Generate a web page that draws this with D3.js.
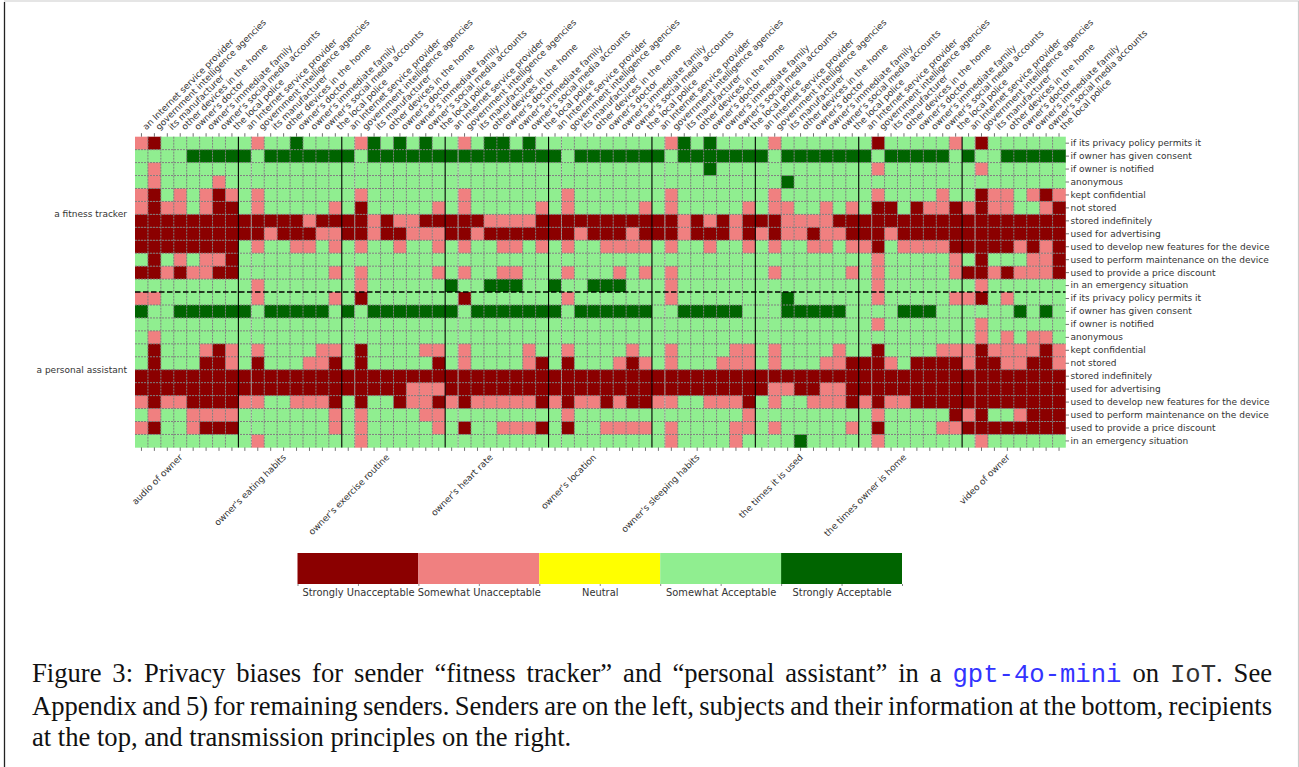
<!DOCTYPE html>
<html>
<head>
<meta charset="utf-8">
<script src="https://d3js.org/d3.v7.min.js"></script>
<style>
    html, body { margin: 0; padding: 0; background: white; overflow: hidden; }
    svg { display: block; position: absolute; left: 0; top: 0; }
    text { font-family: "DejaVu Sans", sans-serif; fill: #333; }
    .caption {
        position: absolute; left: 32px; white-space: nowrap;
        font-family: "Liberation Serif", serif; font-size: 26.6px; line-height: 30px; color: #111;
    }
    .tt { font-family: "Liberation Mono", monospace; font-size: 25.6px; font-weight: 400; color: #333; }
</style>
</head>
<body>
<script>
    const width = 1299, height = 767;

    const recipients = ["an Internet service provider", "government intelligence agencies", "its manufacturer",
        "other devices in the home", "owner's doctor", "owner's immediate family",
        "owner's social media accounts", "the local police"];
    const subjects = ["audio of owner", "owner's eating habits", "owner's exercise routine", "owner's heart rate",
        "owner's location", "owner's sleeping habits", "the times it is used", "the times owner is home", "video of owner"];
    const senders = ["a fitness tracker", "a personal assistant"];
    const principles = ["if its privacy policy permits it", "if owner has given consent", "if owner is notified",
        "anonymous", "kept confidential", "not stored", "stored indefinitely", "used for advertising",
        "used to develop new features for the device", "used to perform maintenance on the device",
        "used to provide a price discount", "in an emergency situation"];
    const ratings = ["Strongly Unacceptable", "Somewhat Unacceptable", "Neutral", "Somewhat Acceptable", "Strongly Acceptable"];
    const ratingColors = ["#8b0000", "#f08080", "#ffff00", "#90ee90", "#006400"];

    // one string per principle, 8 digits per subject, digit = index into ratings
    const fitnessTracker = [
        "10333333 31334333 31434343 31344343 33333333 31434333 31333333 30333331 30333333",
        "33334444 43444444 43444444 44444444 43444444 43444444 43444444 43444443 43344444",
        "31333333 33333333 33333333 33333333 33333333 33334333 33333333 31333333 31333333",
        "31333313 33333333 33333333 33333333 33333333 33333333 33433333 33333333 33333333",
        "10313101 31333333 31333333 31333333 31333333 31333333 31333333 31333313 30113101",
        "10113100 31333331 30333331 31333331 31333331 31333331 31133131 30030110 10113310",
        "00000000 00000100 00101100 00011110 00000000 00101010 00111100 00000000 00000000",
        "00000000 00100011 00100111 00100000 00100010 00100010 10110110 00100000 00000000",
        "00000000 31331131 31331331 31331131 31331111 31331331 31331131 10311110 00001010",
        "30313110 33333333 33333333 33333333 33333333 33333333 33333333 31333331 30333110",
        "00101100 33333331 31333331 31331133 31333131 31333333 31333331 31333331 00101110",
        "33333333 31333333 31333333 43344433 43344433 31333333 33333333 31333333 31333333"
    ];
    const personalAssistant = [
        "11333333 31333331 30333333 30333333 31333333 31333333 33433333 31333331 10313333",
        "43344444 43444443 43444444 43444444 43444444 33444443 33444443 33344433 33334343",
        "33333333 33333333 33333333 33333333 33333333 33333333 33333333 31333333 31333333",
        "31333333 33333333 33333333 33333333 33333333 33333333 33333333 33333333 31313113",
        "30333101 31333311 30333311 31333313 31333313 31333311 31333313 30333311 10111101",
        "30333001 30333110 30333330 31333310 30333101 31333111 31333110 00130000 10011001",
        "00000000 00000000 00000000 00000000 00000000 00000000 00000000 00000000 00000000",
        "00000000 00000000 00000111 00000000 00000000 00000000 01100110 00000000 00000000",
        "10110000 11331110 30330110 10111110 10110100 11331110 31331110 10110000 00000000",
        "31331111 33333331 31333311 33333333 31333333 33333331 33333333 31333330 10331000",
        "10331000 33333331 31333331 30331110 30331111 31333311 31333331 30333311 00000000",
        "33333333 31333333 31333333 33333333 33333333 31333313 33343333 31333333 31333333"
    ];

    const columns = d3.range(subjects.length * recipients.length);
    const rows = d3.range(senders.length * principles.length);
    const values = fitnessTracker.concat(personalAssistant).map(r => r.replace(/ /g, "").split("").map(Number));

    const svg = d3.select("body").append("svg").attr("width", width).attr("height", height);

    const x = d3.scaleBand().domain(columns).range([135, 1065.5]);
    const y = d3.scaleBand().domain(rows).range([136.7, 447.4]);
    const color = d3.scaleOrdinal().domain(d3.range(ratings.length)).range(ratingColors);
    const nr = recipients.length, np = principles.length;

    // page frame around the figure
    svg.append("path").attr("d", "M4.5,2 V767")
        .attr("fill", "none").attr("stroke", "#222").attr("stroke-width", 1.3);
    svg.append("path").attr("d", "M4,1 H1298.5 V767")
        .attr("fill", "none").attr("stroke", "#ccc").attr("stroke-width", 1.2);

    // cells
    svg.append("g").selectAll("g").data(values).join("g")
        .attr("transform", (d, i) => `translate(0,${y(i)})`)
        .selectAll("rect").data(d => d).join("rect")
        .attr("x", (d, i) => x(i))
        .attr("width", x.bandwidth() + 0.3)
        .attr("height", y.bandwidth() + 0.3)
        .attr("fill", d => color(d));

    // the light seam after the first column of each subject
    d3.range(subjects.length - 1).forEach(s => {
        svg.append("line").attr("x1", x(s * nr + 9)).attr("x2", x(s * nr + 9))
            .attr("y1", y.range()[0]).attr("y2", y.range()[1])
            .attr("stroke", "white").attr("stroke-opacity", 0.5);
    });

    // dotted grid on cell borders
    const grid = svg.append("g").attr("stroke", "#7f7f7f").attr("stroke-width", 1).attr("stroke-dasharray", "2,1");
    columns.slice(1).filter(c => c % nr != 0).forEach(c => {
        grid.append("line").attr("x1", x(c)).attr("x2", x(c)).attr("y1", y.range()[0]).attr("y2", y.range()[1]);
    });
    rows.slice(1).filter(r => r != np).forEach(r => {
        grid.append("line").attr("x1", x.range()[0]).attr("x2", x.range()[1]).attr("y1", y(r)).attr("y2", y(r));
    });

    // subject and sender separators
    d3.range(1, subjects.length).forEach(s => {
        svg.append("line").attr("x1", x(s * nr)).attr("x2", x(s * nr))
            .attr("y1", y.range()[0]).attr("y2", y.range()[1])
            .attr("stroke", "black").attr("stroke-width", 1.1);
    });
    svg.append("line").attr("x1", x.range()[0]).attr("x2", x.range()[1])
        .attr("y1", y(np)).attr("y2", y(np))
        .attr("stroke", "black").attr("stroke-width", 1.5).attr("stroke-dasharray", "5.5,2.5");

    // top axis: recipients, repeated for each subject
    const topAxis = svg.append("g").attr("transform", `translate(0,${y.range()[0]})`)
        .call(d3.axisTop(x).tickSize(3.5).tickSizeOuter(0).tickFormat(c => recipients[c % nr]));
    topAxis.select(".domain").remove();
    topAxis.selectAll("line").attr("stroke", "#333").attr("stroke-width", 0.7);
    topAxis.selectAll("text")
        .attr("font-size", 8.95).attr("text-anchor", "start")
        .attr("transform", "translate(5,1.5) rotate(-45)").attr("dx", "0.6em").attr("dy", "0.1em");

    // right axis: transmission principles
    const rightAxis = svg.append("g").attr("transform", `translate(${x.range()[1]},0)`)
        .call(d3.axisRight(y).tickSize(3.5).tickPadding(1.5).tickSizeOuter(0).tickFormat(r => principles[r % np]));
    rightAxis.select(".domain").remove();
    rightAxis.selectAll("line").attr("stroke", "#333").attr("stroke-width", 0.7);
    rightAxis.selectAll("text").attr("font-size", 9);

    // bottom axis: subjects at the middle of each group
    const subjectX = d3.scaleBand().domain(subjects).range(x.range());
    const bottomAxis = svg.append("g").attr("transform", `translate(0,${y.range()[1]})`)
        .call(d3.axisBottom(x).tickSize(3.5).tickSizeOuter(0).tickFormat(""));
    bottomAxis.select(".domain").remove();
    bottomAxis.selectAll("line").attr("stroke", "#333").attr("stroke-width", 0.7);
    svg.append("g").selectAll("text").data(subjects).join("text")
        .attr("transform", d => `translate(${subjectX(d) + subjectX.bandwidth() / 2 - 8},${y.range()[1] + 6}) rotate(-45)`)
        .attr("text-anchor", "end").attr("dy", "0.7em")
        .attr("font-size", 9)
        .text(d => d);

    // left labels: senders
    svg.append("g").selectAll("text").data(senders).join("text")
        .attr("x", 127)
        .attr("y", (d, i) => y(i * np + np / 2))
        .attr("dy", "0.32em").attr("text-anchor", "end")
        .attr("font-size", 9)
        .text(d => d);

    // legend
    const legendX = d3.scaleLinear().domain([0, ratings.length]).range([297.5, 902]);
    svg.append("g").selectAll("rect").data(ratings).join("rect")
        .attr("x", (d, i) => legendX(i))
        .attr("y", 553)
        .attr("width", (d, i) => legendX(i + 1) - legendX(i))
        .attr("height", 31)
        .attr("fill", (d, i) => ratingColors[i]);
    const legendAxis = svg.append("g").attr("transform", "translate(0,584)")
        .call(d3.axisBottom(legendX).tickValues(d3.range(0, ratings.length + 0.5, 0.5)).tickSize(2)
            .tickFormat(v => Number.isInteger(v) ? "" : ratings[Math.floor(v)]));
    legendAxis.select(".domain").remove();
    legendAxis.selectAll("line").attr("stroke", "#555").attr("stroke-width", 0.7);
    legendAxis.selectAll("text").attr("font-size", 9.9).attr("dy", "0.71em");

    // caption, the first two lines are justified to 1240px by stretching the spaces
    function justify(line) {
        const node = line.node();
        const spaces = node.textContent.split(" ").length - 1;
        const extra = 1240 - node.getBoundingClientRect().width;
        line.style("word-spacing", `${extra / spaces}px`);
    }
    const caption = d3.select("body");
    caption.append("div").attr("class", "caption").style("top", "658px")
        .html('Figure 3: Privacy biases for sender “fitness tracker” and “personal assistant” in a <span class="tt" style="color:#3333ff">gpt-4o-mini</span> on <span class="tt">IoT</span>. See')
        .call(justify);
    caption.append("div").attr("class", "caption").style("top", "691px")
        .text("Appendix and 5) for remaining senders. Senders are on the left, subjects and their information at the bottom, recipients")
        .call(justify);
    caption.append("div").attr("class", "caption").style("top", "722px")
        .text("at the top, and transmission principles on the right.");
</script>
</body>
</html>
